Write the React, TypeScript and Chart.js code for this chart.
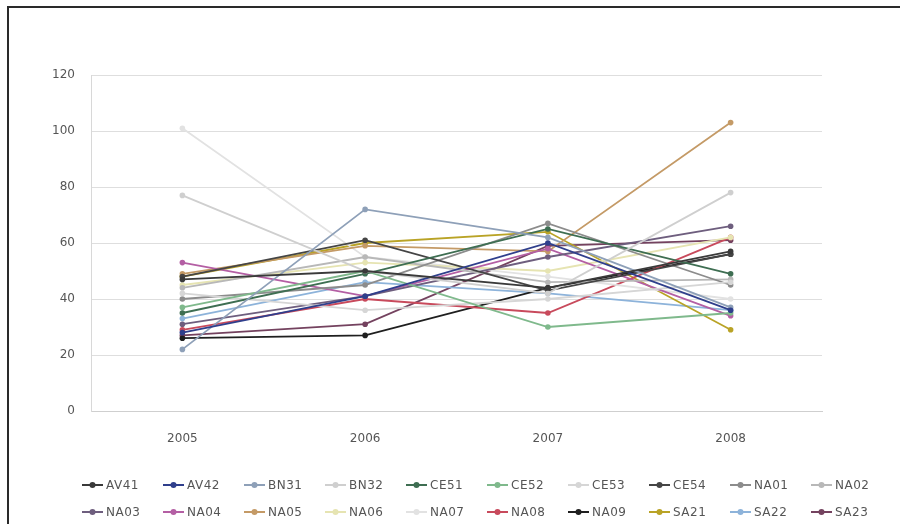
import React, { useEffect, useRef } from "react";
import { Chart, registerables } from "chart.js";

Chart.register(...registerables);

// Years on the category axis
const years = ["2005", "2006", "2007", "2008"];

// Site codes, in legend order
const seriesNames = [
  "AV41", "AV42", "BN31", "BN32", "CE51", "CE52", "CE53", "CE54", "NA01", "NA02",
  "NA03", "NA04", "NA05", "NA06", "NA07", "NA08", "NA09", "SA21", "SA22", "SA23",
];

// Yearly values per site (2005..2008)
const AV41 = [47, 50, 44, 57];
const AV42 = [28, 41, 60, 36];
const BN31 = [22, 72, 62, 37];
const BN32 = [77, 50, 42, 78];
const CE51 = [35, 49, 65, 49];
const CE52 = [37, 50, 30, 35];
const CE53 = [42, 36, 40, 46];
const CE54 = [48, 61, 43, 56];
const NA01 = [40, 45, 67, 45];
const NA02 = [44, 55, 46, 47];
const NA03 = [31, 41, 55, 66];
const NA04 = [53, 41, 58, 34];
const NA05 = [49, 59, 57, 103];
const NA06 = [45, 53, 50, 62];
const NA07 = [101, 55, 48, 40];
const NA08 = [29, 40, 35, 62];
const NA09 = [26, 27, 44, 56];
const SA21 = [48, 60, 64, 29];
const SA22 = [33, 46, 42, 36];
const SA23 = [27, 31, 59, 61];

const seriesValues = [
  AV41, AV42, BN31, BN32, CE51, CE52, CE53, CE54, NA01, NA02,
  NA03, NA04, NA05, NA06, NA07, NA08, NA09, SA21, SA22, SA23,
];

const seriesColors = [
  "#3a3a3a", "#2f3f8c", "#8ea0b8", "#cfcfcf", "#3e6e52", "#7fb98c", "#d6d6d6", "#454545", "#8c8c8c", "#b8b8b8",
  "#6e5e7e", "#b45fa4", "#c49a66", "#e6e4b2", "#e2e2e2", "#c84a5c", "#1f1f1f", "#b9a326", "#8db3da", "#74425f",
];

// Y axis range
const yMin = 0;
const yMax = 120;
const yStep = 20;

const FONT = "'DejaVu Sans', sans-serif";

// Two-row legend with a short line and dot per series
const gridLegend = {
  id: "gridLegend",
  afterDraw(chart: any) {
    const ctx = chart.ctx;
    ctx.save();
    ctx.font = `12px ${FONT}`;
    ctx.textBaseline = "middle";
    ctx.textAlign = "left";
    try { ctx.letterSpacing = "0.5px"; } catch (e) {}
    chart.data.datasets.forEach((ds: any, i: number) => {
      const col = i % 10;
      const row = Math.floor(i / 10);
      const x0 = 82 + col * 81;
      const y = 485 + row * 27;
      ctx.strokeStyle = ds.borderColor;
      ctx.lineWidth = 2;
      ctx.beginPath();
      ctx.moveTo(x0, y);
      ctx.lineTo(x0 + 21, y);
      ctx.stroke();
      ctx.fillStyle = ds.borderColor;
      ctx.beginPath();
      ctx.arc(x0 + 10.5, y, 3, 0, Math.PI * 2);
      ctx.fill();
      ctx.fillStyle = "#555";
      ctx.fillText(ds.label, x0 + 24, y + 1);
    });
    ctx.restore();
  },
};

export default function App() {
  const canvasRef = useRef<HTMLCanvasElement | null>(null);

  useEffect(() => {
    if (!canvasRef.current) return;
    const chart = new Chart(canvasRef.current, {
      type: "line",
      data: {
        labels: years,
        datasets: seriesNames.map((name, i) => ({
          label: name,
          data: seriesValues[i],
          borderColor: seriesColors[i],
          backgroundColor: seriesColors[i],
          borderWidth: 1.8,
          pointRadius: 2.8,
          pointBorderWidth: 0,
          tension: 0,
        })),
      },
      options: {
        animation: false,
        responsive: false,
        layout: { padding: { left: 0, right: 78, top: 75, bottom: 72 } },
        plugins: {
          legend: { display: false },
          tooltip: { enabled: false },
        },
        scales: {
          x: {
            offset: true,
            grid: { display: false, drawTicks: false },
            border: { color: "#cfcfcf", width: 1 },
            ticks: { color: "#555", font: { family: FONT, size: 12 }, padding: 21 },
            afterFit: (s: any) => { s.height = 41; },
          },
          y: {
            min: yMin,
            max: yMax,
            ticks: { stepSize: yStep, color: "#555", font: { family: FONT, size: 12 }, padding: 16 },
            grid: { color: "#dedede", drawTicks: false },
            border: { color: "#d8d8d8", width: 1 },
            afterFit: (s: any) => { s.width = 91; },
          },
        },
      },
      plugins: [gridLegend],
    });
    return () => chart.destroy();
  }, []);

  return (
    <div style={{ position: "absolute", left: 0, top: 0, width: 900, height: 524, background: "#fff", overflow: "hidden" }}>
      <div style={{ position: "absolute", left: 7, top: 6, width: 893, height: 2, background: "#2a2a2a" }} />
      <div style={{ position: "absolute", left: 7, top: 6, width: 2, height: 518, background: "#2a2a2a" }} />
      <canvas ref={canvasRef} width={900} height={524} style={{ position: "absolute", left: 0, top: 0 }} />
    </div>
  );
}
